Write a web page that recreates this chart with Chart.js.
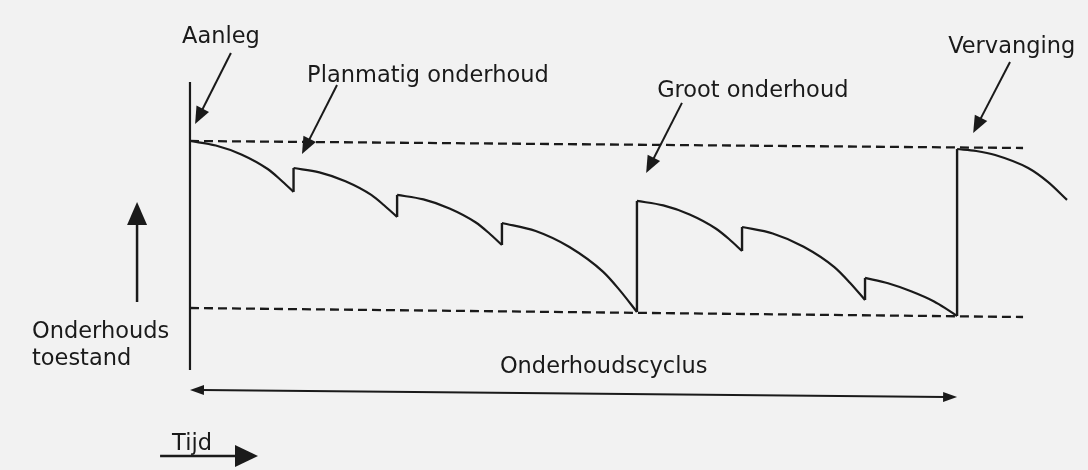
<!DOCTYPE html>
<html>
<head>
<meta charset="utf-8">
<script src="https://cdn.jsdelivr.net/npm/chart.js@4.4.1/dist/chart.umd.min.js"></script>
<style>
  html, body { margin: 0; padding: 0; background: #f2f2f2; }
  #wrap { width: 1088px; height: 470px; position: relative; }
</style>
</head>
<body>
<div id="wrap"><canvas id="onderhoudChart"></canvas></div>
<script>
// tijd in jaren, toestand in % (100 = nieuw, 0 = minimum niveau); null = nieuwe boog
const tijd = [0, 1.01, 2.03, 3.04, 3.54, 4.05, null,
    4.05, 5.06, 6.08, 7.09, 7.59, 8.10, null,
    8.10, 9.13, 10.15, 11.18, 11.69, 12.20, null,
    12.20, 13.52, 14.84, 16.16, 16.82, 17.48, null,
    17.48, 18.51, 19.54, 20.56, 21.08, 21.59, null,
    21.59, 22.79, 24.00, 25.20, 25.80, 26.40, null,
    26.40, 27.30, 28.20, 29.10, 29.55, 30.00, null,
    30.00, 30.75, 31.49, 32.78, 33.55, 34.30];
const toestand = [100, 97.3, 91.8, 83.2, 76.8, 69.5, null,
    83.8, 81.2, 75.9, 67.7, 61.5, 54.5, null,
    67.7, 65.0, 59.6, 51.2, 44.9, 37.7, null,
    50.9, 46.1, 36.5, 21.6, 10.4, -2.4, null,
    64.1, 61.4, 56.0, 47.6, 41.3, 34.1, null,
    48.5, 44.6, 36.7, 24.5, 15.3, 4.8, null,
    18.0, 14.8, 10.0, 3.9, -0.2, -4.8, null,
    95.2, 94.0, 91.6, 83.8, 75.5, 64.7];

// onderhoudsmomenten: sprong omhoog
const sprongTijd = [4.05, 8.10, 12.20, 17.48, 21.59, 26.40, 30.00];
const sprongVan = [69.5, 54.5, 37.7, -2.4, 34.1, 4.8, -4.8];
const sprongNaar = [83.8, 67.7, 50.9, 64.1, 48.5, 18.0, 95.2];

// grensniveaus (gestippeld)
const grensTijd = [0, 32.58];
const bovengrens = [100, 95.8];
const ondergrens = [0, -5.4];

const asTijd = [0, 0];
const asToestand = [135.3, -37.1];

const labels = [
    { tekst: 'Aanleg', t: -0.31, c: 158.7 },
    { tekst: 'Planmatig onderhoud', t: 4.58, c: 135.3 },
    { tekst: 'Groot onderhoud', t: 18.27, c: 126.3 },
    { tekst: 'Vervanging', t: 29.65, c: 152.7 },
    { tekst: 'Onderhouds', t: -6.18, c: -18.0 },
    { tekst: 'toestand', t: -6.18, c: -34.1 },
    { tekst: 'Onderhoudscyclus', t: 12.12, c: -38.9 },
    { tekst: 'Tijd', t: -0.70, c: -85.0 }
];

const pijlen = [
    { van: [1.60, 152.7], naar: [0.20, 110.2], lengte: 17, breed: 7, dik: 2 },
    { van: [5.75, 133.5], naar: [4.38, 92.2], lengte: 17, breed: 7, dik: 2 },
    { van: [19.24, 122.8], naar: [17.84, 80.8], lengte: 17, breed: 7, dik: 2 },
    { van: [32.07, 147.3], naar: [30.63, 104.8], lengte: 17, breed: 7, dik: 2 },
    { van: [-2.07, 3.6], naar: [-2.07, 63.5], lengte: 23, breed: 10, dik: 2.5 },
    { van: [-1.17, -88.6], naar: [2.66, -88.6], lengte: 23, breed: 11, dik: 2.5 },
    { van: [0, -49.1], naar: [30, -53.3], lengte: 14, breed: 5, dik: 2, dubbel: true }
];

const lijnKleur = '#1a1a1a';

function punten(xs, ys) {
    return xs.map((x, i) => ({ x: x, y: ys[i] }));
}

// elke boog een eigen dataset (splitsen op null)
const bogen = [];
let huidig = [];
tijd.forEach((t, i) => {
    if (t === null) {
        bogen.push(huidig);
        huidig = [];
    } else {
        huidig.push({ x: t, y: toestand[i] });
    }
});
bogen.push(huidig);

const datasets = bogen.map((b, i) => ({
    label: 'Boog ' + (i + 1),
    data: b,
    showLine: true,
    cubicInterpolationMode: 'monotone',
    borderColor: lijnKleur,
    borderWidth: 2.2,
    pointRadius: 0
}));

sprongTijd.forEach((t, i) => {
    datasets.push({
        label: 'Onderhoud ' + (i + 1),
        data: [{ x: t, y: sprongVan[i] }, { x: t, y: sprongNaar[i] }],
        showLine: true,
        borderColor: lijnKleur,
        borderWidth: 2.4,
        pointRadius: 0
    });
});

[bovengrens, ondergrens].forEach((g, i) => {
    datasets.push({
        label: i === 0 ? 'Bovengrens' : 'Ondergrens',
        data: punten(grensTijd, g),
        showLine: true,
        borderColor: lijnKleur,
        borderWidth: 2.3,
        borderDash: [9, 5],
        pointRadius: 0
    });
});

datasets.push({
    label: 'As',
    data: punten(asTijd, asToestand),
    showLine: true,
    borderColor: lijnKleur,
    borderWidth: 2.2,
    pointRadius: 0
});

function pijlKop(ctx, x1, y1, x2, y2, l, w) {
    const a = Math.atan2(y2 - y1, x2 - x1);
    ctx.beginPath();
    ctx.moveTo(x2, y2);
    ctx.lineTo(x2 - l * Math.cos(a) + w * Math.sin(a), y2 - l * Math.sin(a) - w * Math.cos(a));
    ctx.lineTo(x2 - l * Math.cos(a) - w * Math.sin(a), y2 - l * Math.sin(a) + w * Math.cos(a));
    ctx.closePath();
    ctx.fill();
}

const annotaties = {
    id: 'annotaties',
    afterDatasetsDraw(chart) {
        const { ctx, scales: { x, y } } = chart;
        ctx.save();
        ctx.fillStyle = lijnKleur;
        ctx.strokeStyle = lijnKleur;
        ctx.font = '22.5px "DejaVu Sans"';
        ctx.textBaseline = 'alphabetic';
        labels.forEach(l => {
            ctx.fillText(l.tekst, x.getPixelForValue(l.t), y.getPixelForValue(l.c));
        });
        pijlen.forEach(p => {
            const x1 = x.getPixelForValue(p.van[0]), y1 = y.getPixelForValue(p.van[1]);
            const x2 = x.getPixelForValue(p.naar[0]), y2 = y.getPixelForValue(p.naar[1]);
            const a = Math.atan2(y2 - y1, x2 - x1);
            let sx = x1, sy = y1;
            if (p.dubbel) {
                sx = x1 + (p.lengte - 2) * Math.cos(a);
                sy = y1 + (p.lengte - 2) * Math.sin(a);
            }
            ctx.lineWidth = p.dik;
            ctx.beginPath();
            ctx.moveTo(sx, sy);
            ctx.lineTo(x2 - (p.lengte - 2) * Math.cos(a), y2 - (p.lengte - 2) * Math.sin(a));
            ctx.stroke();
            pijlKop(ctx, x1, y1, x2, y2, p.lengte, p.breed);
            if (p.dubbel) pijlKop(ctx, x2, y2, x1, y1, p.lengte, p.breed);
        });
        ctx.restore();
    }
};

const ctx = document.getElementById('onderhoudChart').getContext('2d');
const myChart = new Chart(ctx, {
    type: 'scatter',
    data: { datasets: datasets },
    options: {
        responsive: true,
        maintainAspectRatio: false,
        animation: false,
        layout: { padding: 0 },
        plugins: {
            legend: { display: false },
            tooltip: { enabled: false }
        },
        scales: {
            x: { type: 'linear', min: -7.43, max: 35.12, display: false },
            y: { type: 'linear', min: -97.0, max: 184.4, display: false }
        }
    },
    plugins: [annotaties]
});
</script>
</body>
</html>
